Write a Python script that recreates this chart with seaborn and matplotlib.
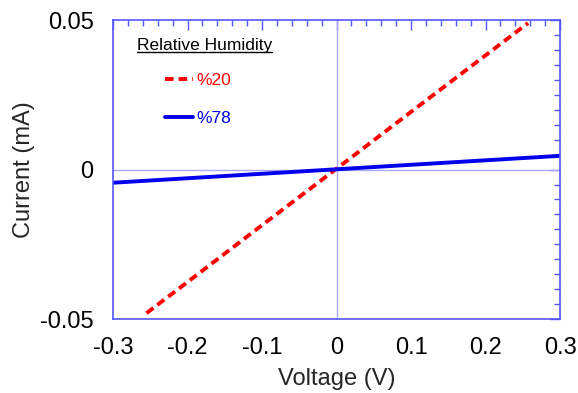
import matplotlib
matplotlib.use("Agg")
import matplotlib.pyplot as plt
from matplotlib.ticker import MultipleLocator
from matplotlib.lines import Line2D
from matplotlib.transforms import offset_copy
import seaborn as sns
import pandas as pd

# values
VOLT_20 = [-0.255, -0.2, -0.1, 0.0, 0.1, 0.2, 0.257]
CURR_20 = [-0.0480, -0.0376, -0.0186, 0.0003, 0.0193, 0.0382, 0.0490]
VOLT_78 = [-0.3, -0.2, -0.1, 0.0, 0.1, 0.2, 0.3]
CURR_78 = [-0.0044, -0.0029, -0.0014, 0.0001, 0.0016, 0.0031, 0.0046]
LABELS = ["%20", "%78"]
COLORS = ["#ff0000", "#0000ee"]
X_TICKS = [-0.3, -0.2, -0.1, 0.0, 0.1, 0.2, 0.3]
X_TICK_LABELS = ["-0.3", "-0.2", "-0.1", "0", "0.1", "0.2", "0.3"]
Y_TICKS = [-0.05, 0.0, 0.05]
Y_TICK_LABELS = ["-0.05", "0", "0.05"]

SPINE_COLOR = "#5555ff"
REF_COLOR = "#aaaaff"
DASH = (2.2, 1.3)

sns.set_theme(style="white")
plt.rcParams["font.family"] = ["Liberation Sans", "DejaVu Sans"]
plt.rcParams["axes.unicode_minus"] = False

df = pd.concat([
    pd.DataFrame({"Voltage": VOLT_20, "Current": CURR_20, "RH": LABELS[0]}),
    pd.DataFrame({"Voltage": VOLT_78, "Current": CURR_78, "RH": LABELS[1]}),
], ignore_index=True)

fig = plt.figure(figsize=(5.78, 3.93), dpi=100)
ax = fig.add_axes([0.1955, 0.188, 0.7735, 0.761])

ax.axhline(0, color=REF_COLOR, lw=1, zorder=1)
ax.axvline(0, color=REF_COLOR, lw=1, zorder=1)

sns.lineplot(data=df, x="Voltage", y="Current", hue="RH", style="RH",
             palette=dict(zip(LABELS, COLORS)),
             dashes={LABELS[0]: DASH, LABELS[1]: ""},
             linewidth=2.8, estimator=None, sort=False, legend=False, ax=ax)

ax.set_xlim(-0.3, 0.3)
ax.set_ylim(-0.05, 0.05)
ax.set_xticks(X_TICKS, X_TICK_LABELS)
ax.set_yticks(Y_TICKS, Y_TICK_LABELS)
ax.xaxis.set_minor_locator(MultipleLocator(0.02))
ax.yaxis.set_minor_locator(MultipleLocator(0.005))
ax.tick_params(which="both", direction="in", top=True, right=True,
               color=SPINE_COLOR, width=1, labelsize=17, labelcolor="black")
ax.tick_params(which="major", length=7)
ax.tick_params(which="minor", length=4)
ax.tick_params(axis="x", pad=13)
ax.tick_params(axis="y", pad=14)
for sp in ax.spines.values():
    sp.set_color(SPINE_COLOR)
    sp.set_linewidth(1.2)

ax.set_xlabel("Voltage (V)", fontsize=17, va="center")
ax.set_ylabel("Current (mA)", fontsize=17, va="center")
ax.xaxis.set_label_coords(0.5, -0.2)
ax.yaxis.set_label_coords(-0.2, 0.5)

# legend: underlined heading + coloured labels
title = ax.text(0.054, 0.901, "Relative Humidity", transform=ax.transAxes,
                fontsize=12.5, va="baseline", ha="left", color="black")
handles = [Line2D([], [], color=COLORS[0], lw=2.8, dashes=DASH),
           Line2D([], [], color=COLORS[1], lw=2.8)]
ax.legend(handles, LABELS, loc="upper left", bbox_to_anchor=(0.116, 0.823),
          frameon=False, fontsize=12.5, labelcolor="linecolor", handlelength=1.6,
          handletextpad=0.2, labelspacing=1.3, borderpad=0, borderaxespad=0)

fig.canvas.draw()
bb = title.get_window_extent().transformed(ax.transAxes.inverted())
under = offset_copy(ax.transAxes, fig=fig, x=0, y=-2.5, units="dots")
ax.plot([bb.x0, bb.x1], [0.901, 0.901], transform=under, color="black",
        lw=1, clip_on=False)

fig.savefig("out.png", dpi=100)
